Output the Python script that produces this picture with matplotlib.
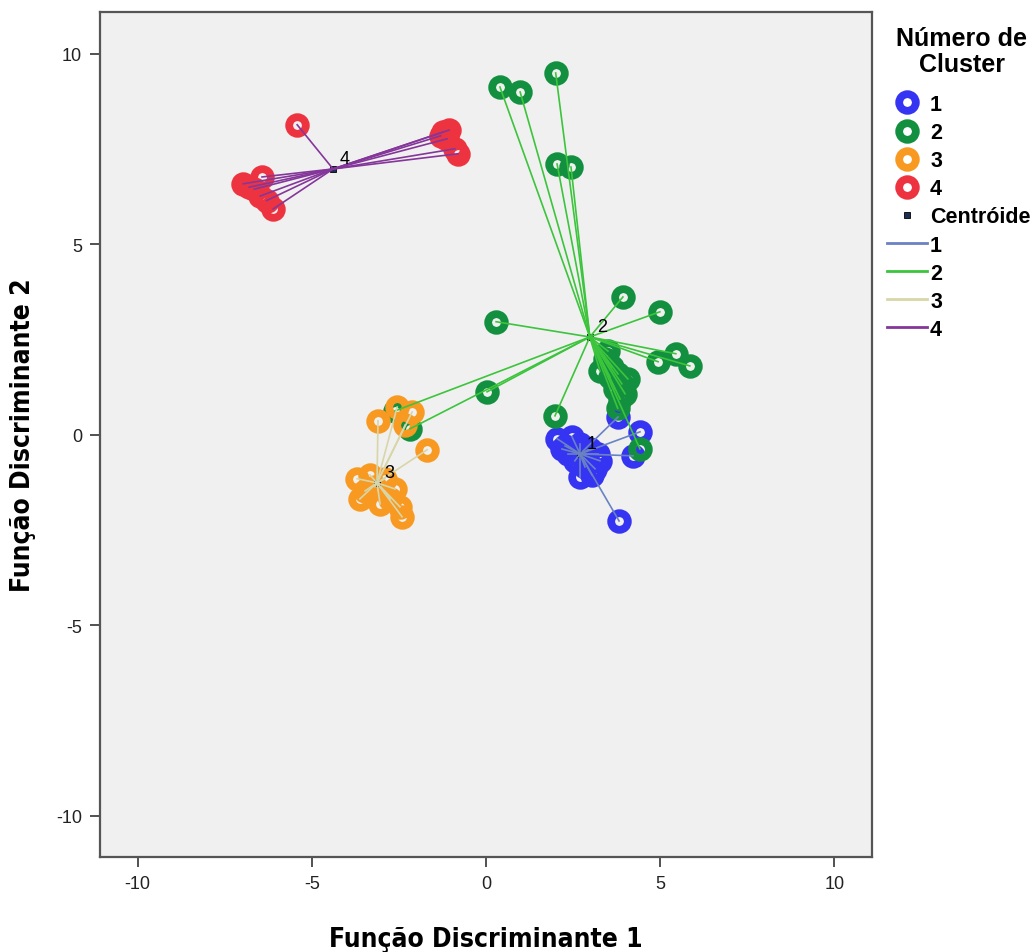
import matplotlib
matplotlib.use("Agg")
import matplotlib.pyplot as plt
from matplotlib.lines import Line2D
import numpy as np

# ---------------- data ----------------
c1_x = [2.04, 2.27, 2.47, 2.70, 2.98, 2.55, 2.84, 3.13, 3.27, 2.35, 2.70, 3.04, 2.18, 3.21,
        3.79, 4.42, 4.22, 3.82]
c1_y = [-0.10, -0.29, -0.05, -0.24, -0.37, -0.68, -0.84, -0.89, -0.68, -0.50, -1.10, -1.05, -0.37, -0.50,
        0.47, 0.08, -0.55, -2.26]

c2_x = [0.40, 0.98, 2.00, 2.04, 2.44, 3.93, 4.99, 0.29, 4.94, 5.45, 5.85, 0.03, 1.98, -2.61, -2.18,
        3.78, 4.42,
        3.41, 3.62, 3.79, 3.90, 3.70, 3.56, 3.99, 3.85, 3.27, 4.07, 3.50]
c2_y = [9.13, 9.00, 9.50, 7.11, 7.03, 3.62, 3.23, 2.97, 1.92, 2.13, 1.81, 1.13, 0.50, 0.63, 0.16,
        0.70, -0.37,
        1.99, 1.78, 1.60, 1.34, 1.21, 1.52, 1.08, 0.94, 1.68, 1.47, 2.20]

c3_x = [-3.10, -2.55, -2.12, -2.32, -1.69,
        -3.70, -3.47, -3.19, -2.90, -2.61, -2.75, -3.04, -2.47, -2.41, -3.62, -3.33]
c3_y = [0.37, 0.73, 0.60, 0.26, -0.39,
        -1.15, -1.47, -1.36, -1.15, -1.42, -1.68, -1.81, -1.89, -2.15, -1.68, -1.05]

c4_x = [-5.42, -1.23, -1.06, -1.12, -0.89, -0.80, -1.30,
        -6.97, -6.43, -6.65, -6.48, -6.30, -6.11, -6.80]
c4_y = [8.14, 7.95, 8.00, 7.77, 7.51, 7.38, 7.85,
        6.59, 6.77, 6.45, 6.27, 6.15, 5.93, 6.50]

centroid_x = [2.70, 2.98, -3.13, -4.39]
centroid_y = [-0.50, 2.57, -1.26, 6.98]
cluster_labels = ["1", "2", "3", "4"]

point_colors = ["#3434f2", "#13903f", "#f89a22", "#ee3340"]
line_colors = ["#6a82c4", "#3cc43c", "#d8d6a8", "#84369a"]

xlim = (-11.08, 11.08)
ylim = (-11.08, 11.1)
ticks = [-10, -5, 0, 5, 10]

# ---------------- figure ----------------
plt.rcParams["axes.unicode_minus"] = False
regular = ["Liberation Sans", "DejaVu Sans"]

fig = plt.figure(figsize=(10.35, 9.53), dpi=100)
ax = fig.add_axes([100 / 1035, 1 - 858 / 953, (872 - 100) / 1035, (858 - 13) / 953])
ax.set_facecolor("#f0f0f0")

xs = [c1_x, c2_x, c3_x, c4_x]
ys = [c1_y, c2_y, c3_y, c4_y]

ring = dict(linestyle="none", marker="o", markerfacecolor="none", markersize=12.0, markeredgewidth=5.6)
for x, y, col in zip(xs, ys, point_colors):
    ax.plot(x, y, markeredgecolor=col, zorder=2, **ring)

ax.plot(centroid_x, centroid_y, linestyle="none", marker="s", markersize=5,
        markerfacecolor="#1c2f55", markeredgecolor="black", markeredgewidth=0.6, zorder=2.5)

for x, y, cx, cy, col in zip(xs, ys, centroid_x, centroid_y, line_colors):
    for px, py in zip(x, y):
        ax.plot([cx, px], [cy, py], color=col, linewidth=1.2, zorder=3)

for cx, cy, lab in zip(centroid_x, centroid_y, cluster_labels):
    ax.annotate(lab, (cx, cy), xytext=(5, 4), textcoords="offset points",
                fontsize=13, family=regular, color="black", zorder=5)

ax.set_xlim(*xlim)
ax.set_ylim(*ylim)
ax.set_xticks(ticks)
ax.set_yticks(ticks)
ax.tick_params(axis="both", direction="out", length=7, width=1.2, color="#333333",
               labelsize=13, labelcolor="#222222", top=False, right=False, pad=6)
for lab in ax.get_xticklabels() + ax.get_yticklabels():
    lab.set_family(regular)
for s in ax.spines.values():
    s.set_color("#555555")
    s.set_linewidth(1.6)

label_font = dict(fontsize=19, fontweight="bold", family="DejaVu Sans", fontstretch="condensed")
ax.set_xlabel("Função Discriminante 1", **label_font)
ax.set_ylabel("Função Discriminante 2", **label_font)
ax.xaxis.set_label_coords(0.5, (858 - 927) / 845)
ax.yaxis.set_label_coords((36 - 100) / 772, 0.5)

# ---------------- legend ----------------
fig.text(962 / 1035, 1 - 52 / 953, "Número de\nCluster", ha="center", va="center",
         fontsize=18, fontweight="bold", family=regular, linespacing=1.15)

handles = []
labels = []
for col, lab in zip(point_colors, cluster_labels):
    handles.append(Line2D([], [], markeredgecolor=col, **ring))
    labels.append(lab)
handles.append(Line2D([], [], linestyle="none", marker="s", markersize=5,
                      markerfacecolor="#1c2f55", markeredgecolor="black", markeredgewidth=0.6))
labels.append("Centróide")
for col, lab in zip(line_colors, cluster_labels):
    handles.append(Line2D([], [], color=col, linewidth=2))
    labels.append(lab)

leg = fig.legend(handles, labels, loc="upper left",
                 bbox_to_anchor=(887 / 1035, 1 - 95 / 953), frameon=False,
                 prop={"family": regular, "weight": "bold", "size": 15.5},
                 handlelength=1.85, handletextpad=0.15, labelspacing=0.33,
                 borderaxespad=0, borderpad=0)

fig.savefig("out.png", dpi=100, facecolor="white")
